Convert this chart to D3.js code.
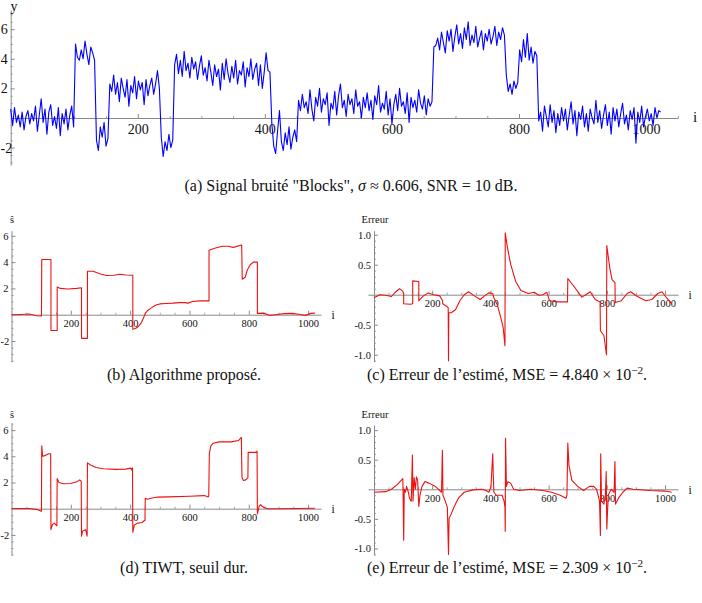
<!DOCTYPE html>
<html><head><meta charset="utf-8">
<script src="https://cdn.jsdelivr.net/npm/d3@7"></script>
<style>body{margin:0;background:#fff} svg{display:block}</style>
</head><body>
<svg id="chart" width="702" height="603"></svg>
<script>
// ---------- data ----------
const noisyStep = 3; // sample spacing of the noisy signal (i = k*3)
const noisy = [
 0.6,-0.5,0.7,-0.3,0.2,-0.6,0.4,-0.8,0.1,0.5,-0.4,0.3,-0.2,0.8,-0.9,0.2,1.3,-0.3,0.6,-1.1,0.4,0.9,-0.5,0.1,-0.7,0.7,-1.2,0.3,-0.4,0.6,-0.8,0.2,0.8,-0.6,
 5.0,4.1,3.9,4.6,4.0,5.2,4.3,3.6,4.8,4.4,3.9,
 -1.5,-2.2,-0.6,-1.3,-0.3,-1.9,-1.4,
 2.3,1.8,2.9,1.6,2.4,1.1,2.7,2.0,1.4,2.6,0.8,2.2,1.7,2.8,1.3,2.5,1.9,2.4,0.9,2.6,1.5,2.2,2.7,1.6,2.3,3.2,2.0,
 -1.3,-2.6,-1.6,-2.2,-1.1,-2.0,-1.5,
 3.6,4.3,3.0,3.9,2.8,4.5,3.2,3.7,2.7,4.1,3.3,3.8,2.6,3.5,4.2,2.9,3.4,2.5,3.9,3.1,2.2,3.6,2.8,3.3,1.9,3.7,2.6,4.0,3.0,2.4,3.5,2.7,3.9,2.3,3.2,2.9,3.8,2.1,3.4,2.8,4.0,2.6,3.3,3.7,2.2,3.6,2.0,3.1,4.4,3.2,3.1,
 -0.4,-1.9,-2.4,-0.9,0.5,-1.6,-2.2,-1.0,-1.8,-0.6,-2.1,-1.3,-0.8,-1.6,
 1.2,0.5,1.6,0.7,1.1,0.3,1.9,0.6,-0.2,1.4,0.8,2.0,0.4,1.3,0.9,1.7,-0.5,1.0,0.6,1.8,0.2,1.5,2.3,0.7,1.2,0.1,1.6,0.9,1.3,0.3,1.9,0.8,1.1,0.0,1.4,0.7,1.7,0.5,1.2,-0.1,1.5,0.9,2.2,0.4,1.0,0.6,1.8,0.2,1.3,-0.4,0.9,1.6,0.5,2.0,0.8,1.1,0.3,1.7,-0.3,1.4,0.7,1.2,0.4,1.9,1.0,0.6,1.5,0.2,1.3,0.8,1.1,
 4.8,4.9,5.4,4.6,5.8,5.1,4.4,5.9,5.2,6.0,4.5,5.5,6.3,5.0,5.7,4.7,6.1,5.3,6.5,4.9,5.6,5.1,6.2,4.8,5.4,5.9,4.6,5.7,5.2,6.0,5.0,5.5,6.2,4.9,5.8,5.3,6.1,5.6,
 2.9,1.8,2.3,1.6,2.5,2.0,2.4,
 4.6,3.8,5.3,4.1,5.7,3.9,4.8,3.7,4.5,4.2,
 -0.2,0.4,-0.9,0.8,0.1,-0.6,0.9,-0.3,0.5,-1.0,0.3,-0.5,0.7,-0.2,0.6,-0.8,0.2,1.1,-0.4,0.5,-1.2,0.4,-0.1,0.8,-0.6,0.3,-0.9,0.6,0.0,-0.4,1.2,-0.3,0.5,-0.7,0.2,0.9,-0.5,0.4,-1.1,0.7,-0.2,0.6,-0.6,0.3,1.0,-0.4,0.2,-0.8,0.5,-0.1,0.7,-1.7,0.4,-0.3,0.8,-0.6,0.1,0.6,-0.2,0.3,-0.5,0.7,0.0,0.5,0.4
];

const estProposed = [
 [0,0],[30,0.02],[60,0.05],[85,-0.08],[101,-0.1],[102,4.2],[133,4.2],[133,-1.2],[154,-1.2],[154,2.1],[165,2.0],[190,1.95],[220,2.0],[236,2.05],[236,-1.8],[256,-1.8],[256,3.3],[275,3.3],[300,3.1],[320,2.98],[345,3.0],[365,3.08],[385,3.02],[409,3.0],[409,-1.1],[418,-1.05],[428,-0.9],[438,-0.6],[446,-0.2],[451,0.1],[458,0.3],[470,0.5],[485,0.72],[500,0.82],[520,0.85],[545,0.88],[565,0.92],[585,0.92],[595,0.88],[610,1.0],[635,1.05],[666,1.05],[666,4.9],[685,5.05],[710,5.2],[730,5.2],[748,5.12],[776,5.3],[778,2.7],[788,2.85],[795,3.4],[805,3.8],[815,4.0],[829,4.0],[829,0.1],[850,0.12],[870,-0.05],[890,0.0],[920,0.08],[945,0.1],[975,0.02],[990,-0.05],[1010,0.1],[1023,0.12]
];
const errProposed = [
 [0,-0.05],[20,0.0],[40,-0.01],[60,-0.03],[75,0.05],[88,0.1],[98,0.06],[102,0.02],[102,-0.15],[125,-0.16],[133,-0.15],[133,0.23],[154,0.22],[154,-0.1],[170,-0.02],[186,0.03],[205,0.0],[226,-0.02],[236,-0.1],[236,-0.15],[252,-0.2],[255,-0.22],[256,-1.1],[257,-0.3],[265,-0.3],[280,-0.25],[295,-0.1],[310,0.0],[325,0.05],[345,-0.02],[365,-0.08],[380,-0.02],[394,0.03],[408,0.02],[412,-0.05],[424,-0.17],[435,-0.37],[444,-0.55],[450,-0.85],[451,1.03],[458,0.8],[470,0.5],[487,0.22],[505,0.07],[530,0.02],[551,0.04],[566,-0.01],[580,0.0],[594,0.04],[603,-0.1],[630,-0.12],[665,-0.12],[666,0.27],[690,0.12],[714,-0.04],[728,0.0],[743,0.05],[760,-0.08],[777,-0.12],[778,-0.6],[790,-0.68],[799,-1.0],[800,0.82],[810,0.45],[818,0.25],[828,0.2],[829,-0.13],[850,-0.1],[870,0.02],[882,0.05],[905,-0.03],[934,-0.1],[955,-0.08],[975,0.02],[990,0.05],[1005,-0.05],[1023,-0.15]
];
const estTIWT = [
 [0,0.02],[60,0.02],[85,-0.05],[100,-0.2],[101,-0.2],[102,4.8],[105,4.0],[112,4.05],[125,4.2],[132,4.2],[133,-1.6],[138,-1.2],[145,-1.1],[152,-1.3],[153,-1.3],[154,2.3],[160,2.0],[175,1.9],[200,1.92],[220,2.05],[230,2.2],[235,2.1],[236,-2.1],[240,-1.7],[250,-1.6],[255,-2.1],[256,3.5],[265,3.35],[285,3.15],[310,3.05],[350,3.0],[385,3.02],[402,3.1],[405,2.95],[408,3.1],[409,-1.8],[414,-1.25],[425,-1.1],[440,-1.05],[448,-0.9],[450,-0.9],[451,0.8],[458,0.72],[470,0.8],[490,0.88],[530,0.9],[600,0.95],[650,1.0],[663,0.9],[665,0.95],[667,4.2],[672,4.8],[680,5.0],[700,5.1],[740,5.1],[765,5.2],[775,5.45],[777,2.4],[782,2.15],[790,2.2],[797,2.35],[798,4.3],[815,4.3],[826,4.3],[828,4.4],[829,-0.4],[835,0.2],[840,0.3],[850,0.1],[865,0.0],[900,0.0],[1023,0.03]
];
const errTIWT = [
 [0,-0.05],[40,-0.04],[60,0.0],[80,0.08],[95,0.16],[99,0.18],[100,-0.1],[102,-0.86],[104,0.0],[108,-0.05],[112,0.05],[118,-0.05],[122,-0.15],[128,-0.2],[132,0.58],[134,-0.2],[138,0.2],[142,0.0],[146,0.21],[150,0.15],[154,-0.29],[158,-0.1],[165,0.05],[175,0.13],[190,0.1],[210,0.05],[222,0.0],[232,-0.05],[235,0.66],[237,-0.1],[245,-0.2],[252,-0.3],[256,-1.1],[258,-0.49],[265,-0.42],[275,-0.3],[290,-0.15],[310,-0.05],[340,-0.01],[370,0.0],[385,-0.02],[395,-0.05],[402,0.05],[408,0.6],[410,0.22],[412,-0.05],[420,-0.1],[440,-0.1],[447,-0.2],[450,-0.3],[451,-0.71],[452,0.86],[455,0.05],[460,0.13],[470,0.1],[480,0.0],[500,-0.02],[540,0.0],[580,-0.02],[610,-0.05],[640,-0.1],[660,-0.15],[663,-0.1],[666,0.78],[670,0.4],[680,0.15],[700,0.05],[720,-0.02],[740,0.05],[755,0.05],[765,0.0],[775,-0.2],[778,-0.78],[779,0.6],[782,-0.2],[790,-0.25],[795,-0.1],[798,0.3],[800,-0.67],[805,-0.1],[815,0.0],[825,-0.05],[828,0.47],[830,-0.25],[840,-0.15],[855,-0.05],[870,0.02],[890,0.0],[950,-0.02],[1000,-0.03],[1023,-0.05]
];

const xTicks = [200, 400, 600, 800, 1000];
const xTickLabels = ["200", "400", "600", "800", "1000"];
const sigTicks = [-2, 2, 4, 6];
const sigTickLabels = ["-2", "2", "4", "6"];
const errTicks = [-1.0, -0.5, 0.5, 1.0];
const errTickLabels = ["-1.0", "-0.5", "0.5", "1.0"];
const xMinorStep = 50, sigMinorStep = 0.5, errMinorStep = 0.1;

// ---------- layout ----------
const svg = d3.select("#chart");
const AXIS = "#8a8a8a";
const FONT = "'Liberation Serif', 'Times New Roman', Times, 'DejaVu Serif', serif";

const panels = [
 {id:"a", ox:10.7, kx:0.6354, oy:118, ky:14.8, xL:10.7, xR:678, yT:10, yB:165,
  font:14, xPad:6.5, yPad:3, ylabel:"y", ylx:14, yly:11, ilx:695, ily:122,
  yTicks:sigTicks, yLabels:sigTickLabels, yMinor:sigMinorStep,
  kind:"noisy", color:"#0000ff"},
 {id:"b", ox:11.5, kx:0.2966, oy:314.7, ky:13.15, xL:11, xR:321, yT:230.7, yB:361.7,
  font:10.5, xPad:5, yPad:3, ylabel:"ŝ", ylx:12, yly:223, ilx:333, ily:319,
  yTicks:sigTicks, yLabels:sigTickLabels, yMinor:sigMinorStep,
  data:estProposed, color:"#ee1111"},
 {id:"c", ox:374, kx:0.291, oy:294.7, ky:60, xL:368, xR:678, yT:230.7, yB:361.7,
  font:10.5, xPad:5, yPad:3, ylabel:"Erreur", ylx:375, yly:223, ilx:690, ily:299,
  yTicks:errTicks, yLabels:errTickLabels, yMinor:errMinorStep,
  data:errProposed, color:"#ee1111"},
 {id:"d", ox:11.5, kx:0.2966, oy:508.7, ky:13.1, xL:11, xR:321, yT:423, yB:555,
  font:10.5, xPad:5, yPad:3, ylabel:"ŝ", ylx:12, yly:418, ilx:333, ily:513,
  yTicks:sigTicks, yLabels:sigTickLabels, yMinor:sigMinorStep,
  data:estTIWT, color:"#ee1111"},
 {id:"e", ox:374, kx:0.291, oy:489.3, ky:59.2, xL:368, xR:678, yT:425, yB:555,
  font:10.5, xPad:5, yPad:3, ylabel:"Erreur", ylx:375, yly:418, ilx:690, ily:494,
  yTicks:errTicks, yLabels:errTickLabels, yMinor:errMinorStep,
  data:errTIWT, color:"#ee1111"}
];

function styleText(sel, size) {
  sel.attr("font-family", FONT).style("font-family", FONT).attr("font-size", size).attr("fill", "#111");
}

panels.forEach(p => {
  const x = d3.scaleLinear().domain([(p.xL - p.ox)/p.kx, (p.xR - p.ox)/p.kx]).range([p.xL, p.xR]);
  const y = d3.scaleLinear().domain([(p.oy - p.yB)/p.ky, (p.oy - p.yT)/p.ky]).range([p.yB, p.yT]);
  const g = svg.append("g");

  const [x0, x1] = x.domain();
  const xMinor = d3.range(Math.ceil(Math.max(x0,0)/xMinorStep)*xMinorStep, x1, xMinorStep).filter(v => v > 0 && !xTicks.includes(v));
  const [y0, y1] = y.domain();
  const yMinor = d3.range(Math.ceil(y0/p.yMinor)*p.yMinor, y1, p.yMinor)
     .map(v => +v.toFixed(3)).filter(v => Math.abs(v) > 1e-6 && !p.yTicks.some(t => Math.abs(t - v) < 1e-6));

  const gxm = g.append("g").attr("transform", `translate(0,${y(0)})`)
    .call(d3.axisBottom(x).tickValues(xMinor).tickSize(-2).tickSizeOuter(0).tickFormat(""));
  const gym = g.append("g").attr("transform", `translate(${x(0)},0)`)
    .call(d3.axisLeft(y).tickValues(yMinor).tickSize(-2).tickSizeOuter(0).tickFormat(""));
  [gxm, gym].forEach(s => { s.select(".domain").remove(); s.selectAll("line").attr("stroke", AXIS).attr("stroke-width", 0.8); });

  const gx = g.append("g").attr("transform", `translate(0,${y(0)})`)
    .call(d3.axisBottom(x).tickValues(xTicks).tickSize(-4).tickSizeOuter(0).tickPadding(p.xPad)
      .tickFormat((d, i) => xTickLabels[i]));
  const gy = g.append("g").attr("transform", `translate(${x(0)},0)`)
    .call(d3.axisLeft(y).tickValues(p.yTicks).tickSize(-4).tickSizeOuter(0).tickPadding(p.yPad)
      .tickFormat((d, i) => p.yLabels[i]));
  [gx, gy].forEach(s => {
    s.attr("font-family", FONT).attr("font-size", p.font);
    s.select(".domain").attr("stroke", AXIS).attr("stroke-width", 1);
    s.selectAll("line").attr("stroke", AXIS).attr("stroke-width", 1);
    styleText(s.selectAll("text"), p.font);
  });
  // keep a tick label that would run past the left page edge inside the page
  gy.selectAll(".tick text").each(function() {
    const bb = this.getBBox();
    const left = x(0) + bb.x;
    if (left < 0.5) d3.select(this).attr("x", +d3.select(this).attr("x") + (0.5 - left));
  });

  let pts;
  if (p.kind === "noisy") pts = noisy.map((v, k) => [k * noisyStep, v]);
  else pts = p.data;
  g.append("path").datum(pts)
    .attr("fill", "none").attr("stroke", p.color).attr("stroke-width", 1.1)
    .attr("stroke-linejoin", "round")
    .attr("d", d3.line().x(d => x(d[0])).y(d => y(d[1])));

  styleText(g.append("text").attr("x", p.ylx).attr("y", p.yly).attr("text-anchor", "middle").text(p.ylabel), p.font);
  styleText(g.append("text").attr("x", p.ilx).attr("y", p.ily).attr("text-anchor", "middle").text("i"), p.font + 1);
});

// ---------- captions ----------
const capFont = 16;
function caption(x, y, anchor, parts) {
  const t = svg.append("text").attr("x", x).attr("y", y).attr("text-anchor", anchor);
  styleText(t, capFont);
  parts.forEach(pt => {
    const s = t.append("tspan").text(pt.t);
    if (pt.it) s.attr("font-style", "italic");
    if (pt.sup) s.attr("font-size", capFont * 0.7).attr("dy", -6);
    if (pt.after) s.attr("dy", 6);
  });
}
caption(351, 191, "middle", [{t:"(a) Signal bruité \"Blocks\", "}, {t:"σ", it:true}, {t:" ≈ 0.606, SNR = 10 dB."}]);
caption(184, 380, "middle", [{t:"(b) Algorithme proposé."}]);
caption(367, 380, "start", [{t:"(c) Erreur de l’estimé, MSE = 4.840 × 10"}, {t:"−2", sup:true}, {t:".", after:true}]);
caption(184, 573, "middle", [{t:"(d) TIWT, seuil dur."}]);
caption(367, 573, "start", [{t:"(e) Erreur de l’estimé, MSE = 2.309 × 10"}, {t:"−2", sup:true}, {t:".", after:true}]);
</script>
</body></html>
